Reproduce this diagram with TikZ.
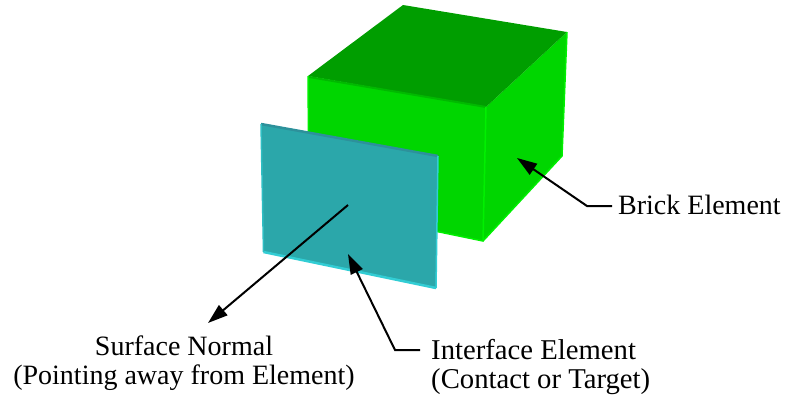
\documentclass[tikz,border=0pt]{standalone}
\usepackage{fontspec}
\setmainfont{Liberation Serif}
\usetikzlibrary{arrows.meta}
\definecolor{topgreen}{RGB}{0,158,0}
\definecolor{sidegreen}{RGB}{0,214,0}
\definecolor{edgegreen}{RGB}{0,240,0}
\definecolor{topedge}{RGB}{0,185,0}
\definecolor{plate}{RGB}{43,167,170}
\definecolor{plateB}{RGB}{50,205,212}
\definecolor{plateT}{RGB}{45,145,155}
\tikzset{
  x=1pt,y=-1pt,
  lead/.style={draw=black,line width=2pt,-{Triangle[length=20pt,width=13pt]}},
  lab/.style={font=\fontsize{28}{31}\selectfont,inner sep=0pt,align=center},
  labw/.style={font=\fontsize{28.7}{31}\selectfont,inner sep=0pt,anchor=west}
}
\begin{document}
\begin{tikzpicture}
\useasboundingbox (0,0) rectangle (785,400);
\coordinate (ct) at (403,5);
\coordinate (cr) at (567,32);
\coordinate (cf) at (486,107);
\coordinate (cl) at (308,76);
\coordinate (cb) at (483,241);
\coordinate (crb) at (562,156);
\coordinate (clb) at (309,205);
\fill[sidegreen] (cl)--(cf)--(cb)--(clb)--cycle;
\fill[sidegreen] (cf)--(cr)--(crb)--(cb)--cycle;
\fill[topgreen] (ct)--(cr)--(cf)--(cl)--cycle;
\draw[topedge,line width=2pt] (309,77)--(cf);
\draw[edgegreen,line width=1.5pt] (cl)--(clb)--(cb)--(crb)--(cr);
\draw[edgegreen,line width=1.5pt] (cf)--(cb);
\coordinate (p1) at (261,124);
\coordinate (p2) at (438,156);
\coordinate (p3) at (436,288);
\coordinate (p4) at (263.5,252);
\fill[plate] (p1)--(p2)--(p3)--(p4)--cycle;
\draw[plateT,line width=2.5pt] (p1)--(p2);
\draw[plateB,line width=2.5pt] (p4)--(p3);
\draw[plateB,line width=1.5pt] (p3)--(p2);
\draw[plateB!60!plate,line width=1.5pt] (p1)--(p4);
\coordinate (ns) at (348,205);
\coordinate (nt) at (208,323);
\coordinate (it) at (348,254);
\coordinate (ie) at (395,350);
\coordinate (ib) at (420,350);
\coordinate (bt) at (517,158);
\coordinate (be) at (587,206);
\coordinate (bb) at (612,206);
\node[lab,anchor=west] (bl) at (618,205) {Brick Element};
\node[lab] (sl) at (184,346) {Surface Normal};
\node[lab] (sl2) at (184,378) {(Pointing away from Element)};
\node[labw] (il) at (431,350) {Interface Element};
\node[labw] (il2) at (431,382) {(Contact or Target)};
\draw[lead] (ns)--(nt);
\draw[lead] (ib) -- (ie) -- (it);
\draw[lead] (bb) -- (be) -- (bt);
\end{tikzpicture}
\end{document}
